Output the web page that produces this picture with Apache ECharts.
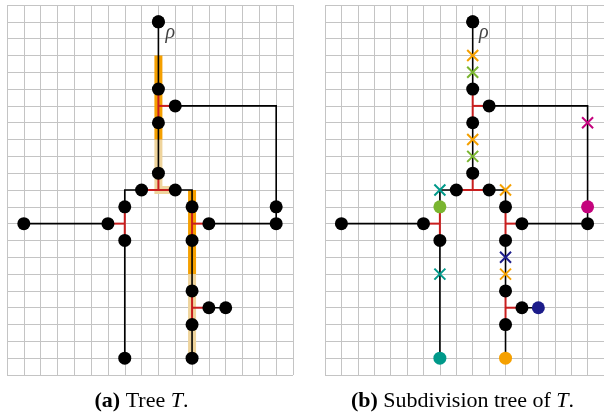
<!DOCTYPE html>
<html><head><meta charset="utf-8">
<script src="https://cdn.jsdelivr.net/npm/echarts@6/dist/echarts.min.js"></script>
<style>html,body{margin:0;padding:0;background:#fff}#c{width:604px;height:414px}</style>
</head><body><div id="c"></div>
<script>
// grid extent (cells)
const xMax = 17, yMax = 22;
// tree edges (polylines in grid coordinates)
const blackEdges = [
  [[9,1],[9,5]],
  [[9,7],[9,10]],
  [[10,6],[16,6],[16,13]],
  [[8,11],[7,11],[7,12]],
  [[1,13],[6,13]],
  [[7,14],[7,21]],
  [[10,11],[11,11],[11,12]],
  [[12,13],[16,13]],
  [[11,14],[11,17]],
  [[12,18],[13,18]],
  [[11,19],[11,21]]
];
const redEdges = [
  [[9,5],[9,7]], [[9,6],[10,6]],
  [[9,10],[9,11]], [[8,11],[10,11]],
  [[7,12],[7,14]], [[6,13],[7,13]],
  [[11,12],[11,14]], [[11,13],[12,13]],
  [[11,17],[11,19]], [[11,18],[12,18]]
];
const heavyPath = [[[9,3],[9,8]], [[11,11],[11,16]]];
const lightPath = [[[9,8],[9,11],[10,11]], [[11,16],[11,21]]];
const treeNodes = [[9,1],[9,5],[10,6],[9,7],[9,10],[8,11],[10,11],[7,12],[11,12],[16,12],
  [1,13],[6,13],[12,13],[16,13],[7,14],[11,14],[11,17],[12,18],[13,18],[11,19],[7,21],[11,21]];
const rootNode = [9,1];
// subdivision markers (panel b)
const crossOrange = [[9,3],[9,8],[11,11],[11,16]];
const crossGreen = [[9,4],[9,9]];
const crossTeal = [[7,11],[7,16]];
const crossMagenta = [[16,7]];
const crossNavy = [[11,15]];
const dotGreen = [[7,12]];
const dotMagenta = [[16,12]];
const dotNavy = [[13,18]];
const dotOrange = [[11,21]];
const dotTeal = [[7,21]];

const C = {orange:'#f5a000', green:'#7ab52f', teal:'#00998a', magenta:'#c4037d', navy:'#1c1c8a'};
const coloredDots = [].concat(dotGreen, dotMagenta, dotNavy, dotOrange, dotTeal);
const key = p => p[0] + ',' + p[1];
const coloredKeys = new Set(coloredDots.map(key));
const blackNodesB = treeNodes.filter(p => !coloredKeys.has(key(p)));

function linesS(paths, gi, color, width, z) {
  return {type:'lines', coordinateSystem:'cartesian2d', xAxisIndex:gi, yAxisIndex:gi,
    polyline:true, silent:true, z:z, animation:false,
    lineStyle:{color:color, width:width, opacity:1, cap:'butt', join:'miter'},
    data: paths.map(p => ({coords:p}))};
}
function dotS(pts, gi, color, z) {
  return {type:'scatter', xAxisIndex:gi, yAxisIndex:gi, symbol:'circle', symbolSize:13,
    silent:true, z:z, animation:false, itemStyle:{color:color, opacity:1}, data:pts};
}
function crossS(pts, gi, color) {
  return {type:'scatter', xAxisIndex:gi, yAxisIndex:gi, symbol:'path://M0,0L10,10M10,0L0,10',
    symbolSize:11, silent:true, z:6, animation:false,
    itemStyle:{color:'none', borderColor:color, borderWidth:2, opacity:1}, data:pts};
}
function rootS(gi, dx) {
  return {type:'scatter', xAxisIndex:gi, yAxisIndex:gi, symbolSize:13, silent:true, z:7, animation:false,
    itemStyle:{color:'#000'}, data:[rootNode],
    label:{show:true, formatter:'\u03c1', position:'inside', offset:[dx,11], color:'#111',
      fontFamily:'Liberation Serif', fontStyle:'italic', fontSize:20}};
}

const grids = [
  {left:7, top:5, width:286, height:370},
  {left:325, top:5, width:286, height:370}
];
const gridLine = {show:true, lineStyle:{color:'#c4c4c4', width:1}};
const xAxes = [0,1].map(i => ({gridIndex:i, type:'value', min:0, max:xMax, interval:1,
  axisLabel:{show:false}, axisTick:{show:false}, axisLine:{show:false}, splitLine:gridLine}));
const yAxes = [0,1].map(i => ({gridIndex:i, type:'value', min:0, max:yMax, interval:1, inverse:true,
  axisLabel:{show:false}, axisTick:{show:false}, axisLine:{show:false}, splitLine:gridLine}));

const series = [
  linesS(lightPath, 0, '#efd49c', 8, 1),
  linesS(heavyPath, 0, '#f5a000', 8, 2),
  linesS(blackEdges, 0, '#000', 1.6, 3),
  linesS(redEdges, 0, '#c81e1e', 2, 4),
  dotS(treeNodes, 0, '#000', 5),
  rootS(0, 12),
  linesS(blackEdges, 1, '#000', 1.6, 3),
  linesS(redEdges, 1, '#c81e1e', 2, 4),
  dotS(blackNodesB, 1, '#000', 5),
  dotS(dotGreen, 1, C.green, 5),
  dotS(dotMagenta, 1, C.magenta, 5),
  dotS(dotNavy, 1, C.navy, 5),
  dotS(dotOrange, 1, C.orange, 5),
  dotS(dotTeal, 1, C.teal, 5),
  crossS(crossOrange, 1, C.orange),
  crossS(crossGreen, 1, C.green),
  crossS(crossTeal, 1, C.teal),
  crossS(crossMagenta, 1, C.magenta),
  crossS(crossNavy, 1, C.navy),
  rootS(1, 11)
];

const capRich = {
  b:{fontFamily:'Liberation Serif', fontWeight:'bold', fontSize:22, fill:'#000'},
  n:{fontFamily:'Liberation Serif', fontSize:22, fill:'#000'},
  i:{fontFamily:'Liberation Serif', fontStyle:'italic', fontSize:22, fill:'#000'}
};
const chart = echarts.init(document.getElementById('c'), null, {renderer:'canvas'});
chart.setOption({
  animation:false,
  grid:grids, xAxis:xAxes, yAxis:yAxes, series:series,
  graphic:[
    {type:'text', x:141.5, y:401, style:{text:'{b|(a)}{n| Tree }{i|T}{n|.}', rich:capRich,
      font:'22px "Liberation Serif"', fill:'#000', textAlign:'center', textVerticalAlign:'middle'}},
    {type:'text', x:462.5, y:401, style:{text:'{b|(b)}{n| Subdivision tree of }{i|T}{n|.}', rich:capRich,
      font:'22px "Liberation Serif"', fill:'#000', textAlign:'center', textVerticalAlign:'middle'}}
  ]
});
</script></body></html>
